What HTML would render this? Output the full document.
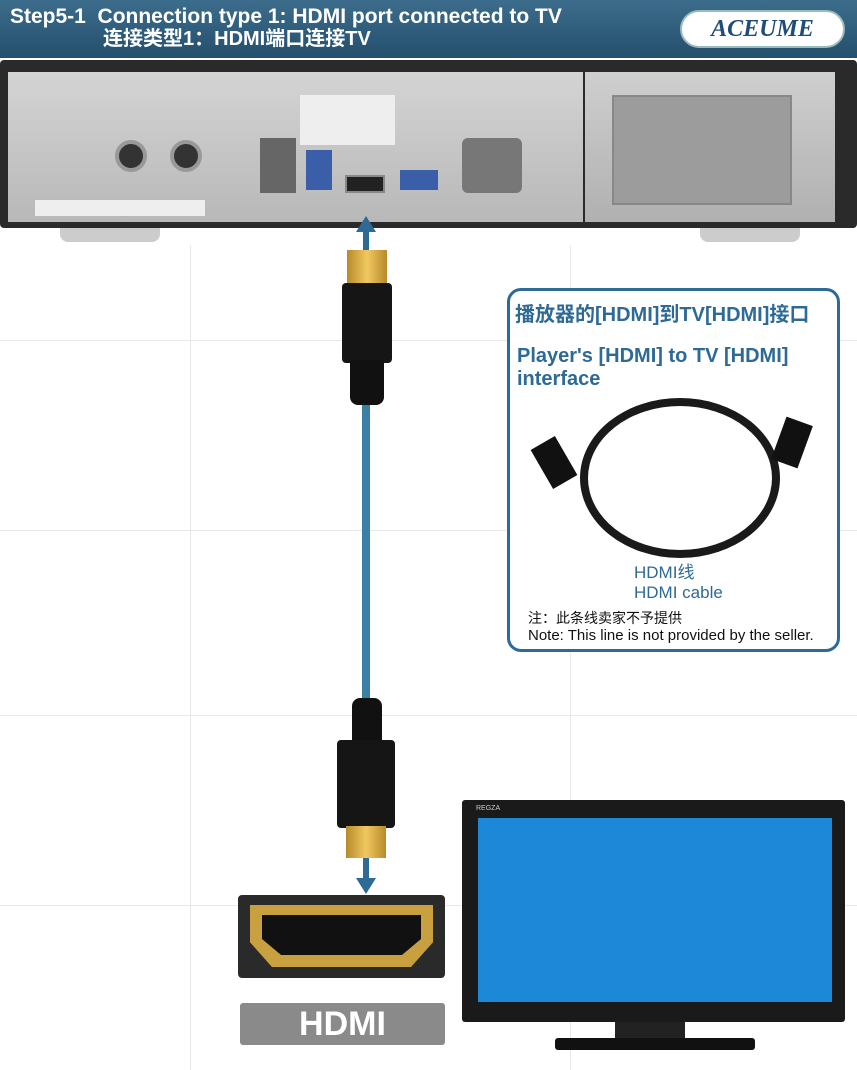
<!DOCTYPE html>
<html><head><meta charset="utf-8"><style>
*{margin:0;padding:0;box-sizing:border-box}
body{width:857px;height:1070px;position:relative;overflow:hidden;background:#fff;font-family:"Liberation Sans","Noto Sans CJK SC",sans-serif}
.a{position:absolute}
.gl{position:absolute;background:#e8e8e8}
</style></head><body>
<div class="gl" style="left:0;top:340px;width:857px;height:1px"></div>
<div class="gl" style="left:0;top:530px;width:857px;height:1px"></div>
<div class="gl" style="left:0;top:715px;width:857px;height:1px"></div>
<div class="gl" style="left:0;top:905px;width:857px;height:1px"></div>
<div class="gl" style="left:190px;top:245px;width:1px;height:825px"></div>
<div class="gl" style="left:570px;top:245px;width:1px;height:825px"></div>
<div class="a" style="left:0;top:0;width:857px;height:58px;background:linear-gradient(#3d6d8c,#244f6d)"></div>
<div class="a" style="left:10px;top:5px;color:#fff;font-weight:bold;font-size:21px;line-height:23px;white-space:nowrap">Step5-1&nbsp; Connection type 1: HDMI port connected to TV</div>
<div class="a" style="left:103px;top:28px;color:#fff;font-weight:bold;font-size:20px;line-height:23px;white-space:nowrap">连接类型1：HDMI端口连接TV</div>
<div class="a" style="left:680px;top:10px;width:165px;height:38px;border-radius:19px;background:#fff;border:2px solid #9bb;color:#1e4d7a;font:bold italic 24px 'Liberation Serif',serif;text-align:center;line-height:34px">ACEUME</div>
<div class="a" style="left:0;top:60px;width:857px;height:168px;background:#2a2a2a;border-radius:4px"></div>
<div class="a" style="left:8px;top:72px;width:575px;height:150px;background:linear-gradient(#d4d4d4,#b8b8b8)"></div>
<div class="a" style="left:585px;top:72px;width:250px;height:150px;background:linear-gradient(#cfcfcf,#b0b0b0)"></div>
<div class="a" style="left:612px;top:95px;width:180px;height:110px;background:#9c9c9c;border:2px solid #888"></div>
<div class="a" style="left:115px;top:140px;width:32px;height:32px;border-radius:50%;background:#333;border:4px solid #999"></div>
<div class="a" style="left:170px;top:140px;width:32px;height:32px;border-radius:50%;background:#333;border:4px solid #999"></div>
<div class="a" style="left:260px;top:138px;width:36px;height:55px;background:#666"></div>
<div class="a" style="left:306px;top:150px;width:26px;height:40px;background:#3a5ea8"></div>
<div class="a" style="left:345px;top:175px;width:40px;height:18px;background:#222;border:2px solid #888"></div>
<div class="a" style="left:400px;top:170px;width:38px;height:20px;background:#3a5ea8"></div>
<div class="a" style="left:462px;top:138px;width:60px;height:55px;background:#777;border-radius:6px"></div>
<div class="a" style="left:300px;top:95px;width:95px;height:50px;background:#eee"></div>
<div class="a" style="left:35px;top:200px;width:170px;height:16px;background:#eee"></div>
<div class="a" style="left:60px;top:228px;width:100px;height:14px;background:#ccc;border-radius:0 0 8px 8px"></div>
<div class="a" style="left:700px;top:228px;width:100px;height:14px;background:#ccc;border-radius:0 0 8px 8px"></div>
<div class="a" style="left:363px;top:230px;width:6px;height:20px;background:#2d6a95"></div>
<div class="a" style="left:356px;top:216px;width:0;height:0;border-left:10px solid transparent;border-right:10px solid transparent;border-bottom:16px solid #2d6a95"></div>
<div class="a" style="left:347px;top:250px;width:40px;height:35px;background:linear-gradient(90deg,#b88a2a,#f0c860,#b88a2a)"></div>
<div class="a" style="left:342px;top:283px;width:50px;height:80px;background:#151515;border-radius:4px"></div>
<div class="a" style="left:350px;top:360px;width:34px;height:45px;background:#111;border-radius:0 0 8px 8px"></div>
<div class="a" style="left:362px;top:405px;width:8px;height:300px;background:#3c7fa6"></div>
<div class="a" style="left:352px;top:698px;width:30px;height:45px;background:#111;border-radius:8px 8px 0 0"></div>
<div class="a" style="left:337px;top:740px;width:58px;height:88px;background:#151515;border-radius:4px"></div>
<div class="a" style="left:346px;top:826px;width:40px;height:32px;background:linear-gradient(90deg,#b88a2a,#f0c860,#b88a2a)"></div>
<div class="a" style="left:363px;top:858px;width:6px;height:22px;background:#2d6a95"></div>
<div class="a" style="left:356px;top:878px;width:0;height:0;border-left:10px solid transparent;border-right:10px solid transparent;border-top:16px solid #2d6a95"></div>
<div class="a" style="left:238px;top:895px;width:207px;height:83px;background:#2a2a2a;border-radius:4px"></div>
<div class="a" style="left:250px;top:905px;width:183px;height:62px;background:#c8a040;clip-path:polygon(0 0,100% 0,100% 60%,88% 100%,12% 100%,0 60%)"></div>
<div class="a" style="left:262px;top:915px;width:159px;height:40px;background:#111;clip-path:polygon(0 0,100% 0,100% 60%,88% 100%,12% 100%,0 60%)"></div>
<div class="a" style="left:240px;top:1003px;width:205px;height:42px;background:#8a8a8a;border-radius:3px;color:#fff;font-weight:bold;font-size:34px;text-align:center;line-height:42px">HDMI</div>
<div class="a" style="left:462px;top:800px;width:383px;height:222px;background:#1a1a1a;border-radius:3px"></div>
<div class="a" style="left:478px;top:818px;width:354px;height:184px;background:#1e88d8"></div>
<div class="a" style="left:476px;top:805px;color:#ccc;font-size:7px">REGZA</div>
<div class="a" style="left:615px;top:1022px;width:70px;height:20px;background:#222"></div>
<div class="a" style="left:555px;top:1038px;width:200px;height:12px;background:#111;border-radius:3px"></div>
<div class="a" style="left:507px;top:288px;width:333px;height:364px;border:3px solid #2d6a95;border-radius:14px;background:#fff"></div>
<div class="a" style="left:515px;top:298px;color:#2d6a95;font-size:20px;font-weight:bold;white-space:nowrap">播放器的[HDMI]到TV[HDMI]接口</div>
<div class="a" style="left:517px;top:345px;color:#2d6a95;font-size:20px;font-weight:bold;line-height:23px;white-space:nowrap">Player's [HDMI] to TV [HDMI]<br>interface</div>
<div class="a" style="left:580px;top:398px;width:200px;height:160px;border:8px solid #1a1a1a;border-radius:50%"></div>
<div class="a" style="left:540px;top:440px;width:28px;height:45px;background:#111;transform:rotate(-30deg)"></div>
<div class="a" style="left:778px;top:420px;width:28px;height:45px;background:#111;transform:rotate(20deg)"></div>
<div class="a" style="left:634px;top:563px;color:#2d6a95;font-size:17px;line-height:20px">HDMI线<br>HDMI cable</div>
<div class="a" style="left:528px;top:610px;color:#111;font-size:14px;line-height:17px;white-space:nowrap">注：此条线卖家不予提供<br><span style="font-size:15px">Note: This line is not provided by the seller.</span></div>
</body></html>
